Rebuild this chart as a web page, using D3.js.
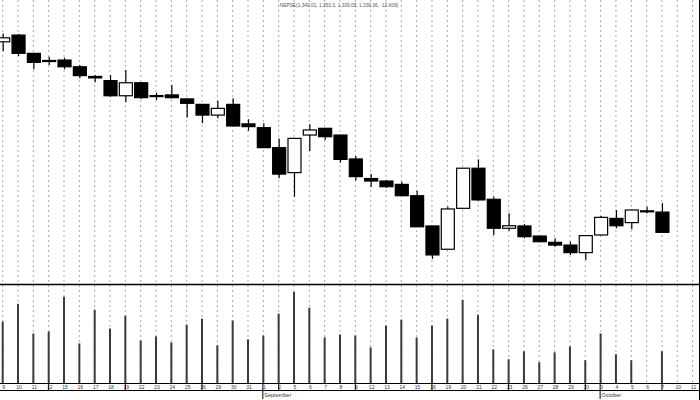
<!DOCTYPE html>
<html>
<head>
<meta charset="utf-8">
<script src="https://cdn.jsdelivr.net/npm/d3@7"></script>
<style>
  html, body { margin: 0; padding: 0; background: #fff; }
  svg { display: block; }
</style>
</head>
<body>
<svg id="chart" width="700" height="400"></svg>
<script>
// ---- data ----
const dates = [
  "2016-08-09","2016-08-10","2016-08-11","2016-08-12","2016-08-15","2016-08-16","2016-08-17","2016-08-18","2016-08-19",
  "2016-08-22","2016-08-23","2016-08-24","2016-08-25","2016-08-26","2016-08-29","2016-08-30","2016-08-31",
  "2016-09-01","2016-09-02","2016-09-05","2016-09-06","2016-09-07","2016-09-08","2016-09-09","2016-09-12",
  "2016-09-13","2016-09-14","2016-09-15","2016-09-16","2016-09-19","2016-09-20","2016-09-21","2016-09-22",
  "2016-09-23","2016-09-26","2016-09-27","2016-09-28","2016-09-29","2016-09-30",
  "2016-10-03","2016-10-04","2016-10-05","2016-10-06","2016-10-07","2016-10-10","2016-10-11"
];
const openP  = [1430.1,1433.3,1424.6,1421.2,1421.4,1418.2,1413.6,1411.6,1404.4,1410.6,1404.5,1404.8,1402.9,1400.3,1395.2,1400.3,1391.0,
                1389.2,1379.7,1367.8,1385.7,1388.9,1385.7,1374.3,1365.0,1363.8,1362.2,1356.8,1342.4,1331.3,1350.8,1369.9,1355.1,
                1341.3,1342.4,1337.6,1334.6,1333.3,1329.7,1338.1,1346.0,1344.0,1349.6,1349.01];
const highP  = [1434.1,1433.8,1424.8,1423.0,1422.5,1419.0,1414.3,1414.3,1416.7,1410.8,1405.9,1409.5,1403.0,1400.5,1402.0,1403.2,1393.2,
                1391.3,1384.1,1384.3,1390.8,1389.0,1385.8,1375.7,1367.1,1364.3,1363.5,1359.2,1342.5,1351.6,1370.0,1374.1,1356.3,
                1348.4,1343.3,1337.9,1336.5,1334.9,1337.9,1347.1,1350.0,1350.2,1351.6,1353.3];
const lowP   = [1425.7,1423.3,1417.0,1419.0,1417.0,1412.7,1410.8,1404.0,1401.3,1402.9,1402.4,1403.1,1394.1,1391.3,1393.7,1389.8,1387.8,
                1379.5,1365.1,1356.3,1378.1,1383.3,1372.5,1364.0,1361.0,1360.5,1356.7,1341.9,1326.7,1331.2,1350.7,1354.5,1338.1,
                1340.1,1336.5,1334.8,1332.5,1328.6,1326.2,1338.0,1341.3,1340.8,1348.4,1339.05];
const closeP = [1432.0,1424.6,1420.3,1420.7,1418.2,1414.0,1412.9,1404.4,1410.6,1403.5,1404.0,1403.5,1400.8,1395.2,1398.4,1390.0,1389.7,
                1379.7,1367.1,1384.1,1388.1,1384.9,1374.1,1365.9,1363.8,1361.1,1356.8,1342.0,1328.6,1350.5,1369.9,1354.8,1341.3,
                1342.5,1337.3,1334.9,1333.3,1329.7,1337.8,1346.5,1342.5,1350.0,1349.4,1339.36];
const volume = [62,80,50,52,87,40,74,55,68,43,47,41,59,65,38,63,44,48,70,92,76,46,49,48,36,58,64,46,58,65,84,69,
                34,24,32,21,31,37,23,50,29,23,0,32];
const titleText = "NEPSE(1,349.01, 1,353.3, 1,339.05, 1,339.36, -12.609)";
const monthNames = ["January","February","March","April","May","June","July","August","September","October","November","December"];

// ---- layout ----
const svg = d3.select("#chart");
const W = 700, H = 400;
const priceBottom = 284, axisY = 383.5, labelBottom = 390.5;

const parse = d3.timeParse("%Y-%m-%d");
const dts = dates.map(parse);

const x = d3.scalePoint().domain(d3.range(dates.length)).range([2.7, 692.6]);
const y = d3.scaleLinear().domain([1310, 1450]).range([294, 0]);
const yv = d3.scaleLinear().domain([0, 100]).range([383, 284]);

svg.append("rect").attr("width", W).attr("height", H).attr("fill", "#fff");

// grid
svg.append("g").selectAll("line").data(d3.range(dates.length)).join("line")
  .attr("x1", i => x(i)).attr("x2", i => x(i))
  .attr("y1", 0).attr("y2", axisY)
  .attr("stroke", "#a8a8a8").attr("stroke-width", 1)
  .attr("stroke-dasharray", "2,3");

// title
svg.append("text").attr("x", 339).attr("y", 7).attr("text-anchor", "middle")
  .attr("font-family", "Liberation Sans, Arial, sans-serif").attr("font-size", 4.8)
  .attr("fill", "#555").text(titleText);

// candles
const candles = d3.range(openP.length).map(i => ({i, o: openP[i], h: highP[i], l: lowP[i], c: closeP[i]}));
const bw = 13;
const cg = svg.append("g");
cg.selectAll("line.wick").data(candles).join("line").attr("class", "wick")
  .attr("x1", d => x(d.i) + 0.5).attr("x2", d => x(d.i) + 0.5)
  .attr("y1", d => y(d.h)).attr("y2", d => y(d.l))
  .attr("stroke", "#000").attr("stroke-width", 1.2);
cg.selectAll("rect.body").data(candles).join("rect").attr("class", "body")
  .attr("x", d => x(d.i) - bw / 2 + 0.5)
  .attr("y", d => y(Math.max(d.o, d.c)))
  .attr("width", bw)
  .attr("height", d => Math.max(1, Math.abs(y(d.o) - y(d.c))))
  .attr("fill", d => d.c > d.o ? "#fff" : "#000")
  .attr("stroke", "#000").attr("stroke-width", 1.2);

// separator between panels
svg.append("line").attr("x1", 0).attr("x2", W).attr("y1", priceBottom + 0.5).attr("y2", priceBottom + 0.5)
  .attr("stroke", "#000").attr("stroke-width", 1.5);

// volume
svg.append("g").selectAll("line").data(volume.map((v, i) => ({v, i})).filter(d => d.v > 0)).join("line")
  .attr("x1", d => x(d.i)).attr("x2", d => x(d.i))
  .attr("y1", d => yv(d.v)).attr("y2", yv(0))
  .attr("stroke", "#3a3a3a").attr("stroke-width", 2);

// x axis
svg.append("line").attr("x1", 0).attr("x2", W).attr("y1", axisY).attr("y2", axisY).attr("stroke", "#000").attr("stroke-width", 1);
svg.append("line").attr("x1", 0).attr("x2", W).attr("y1", labelBottom).attr("y2", labelBottom).attr("stroke", "#000").attr("stroke-width", 1);

const ag = svg.append("g").attr("font-family", "Liberation Sans, Arial, sans-serif").attr("font-size", 5).attr("fill", "#333");
ag.selectAll("text").data(d3.range(dates.length)).join("text")
  .attr("x", i => x(i) + 1).attr("y", 389).attr("text-anchor", "middle")
  .text(i => d3.timeFormat("%-d")(dts[i]));

// week separators (Friday)
const fri = d3.range(dates.length).filter(i => dts[i].getDay() === 5);
svg.append("g").selectAll("line").data(fri).join("line")
  .attr("x1", i => x(i)).attr("x2", i => x(i)).attr("y1", axisY).attr("y2", labelBottom)
  .attr("stroke", "#000").attr("stroke-width", 1);

// months
const monthStarts = d3.range(dates.length).filter(i => i > 0 && dts[i].getMonth() !== dts[i - 1].getMonth());
const mg = svg.append("g");
mg.selectAll("line").data(monthStarts).join("line")
  .attr("x1", i => x(i) - 0.5).attr("x2", i => x(i) - 0.5).attr("y1", axisY).attr("y2", 399)
  .attr("stroke", "#000").attr("stroke-width", 1);
mg.selectAll("text").data(monthStarts).join("text")
  .attr("x", i => x(i) + 1).attr("y", 397)
  .attr("font-family", "Liberation Sans, Arial, sans-serif").attr("font-size", 5.5).attr("fill", "#333")
  .text(i => monthNames[dts[i].getMonth()]);

// right border
svg.append("line").attr("x1", W - 0.5).attr("x2", W - 0.5).attr("y1", 0).attr("y2", H).attr("stroke", "#000").attr("stroke-width", 1);
</script>
</body>
</html>
